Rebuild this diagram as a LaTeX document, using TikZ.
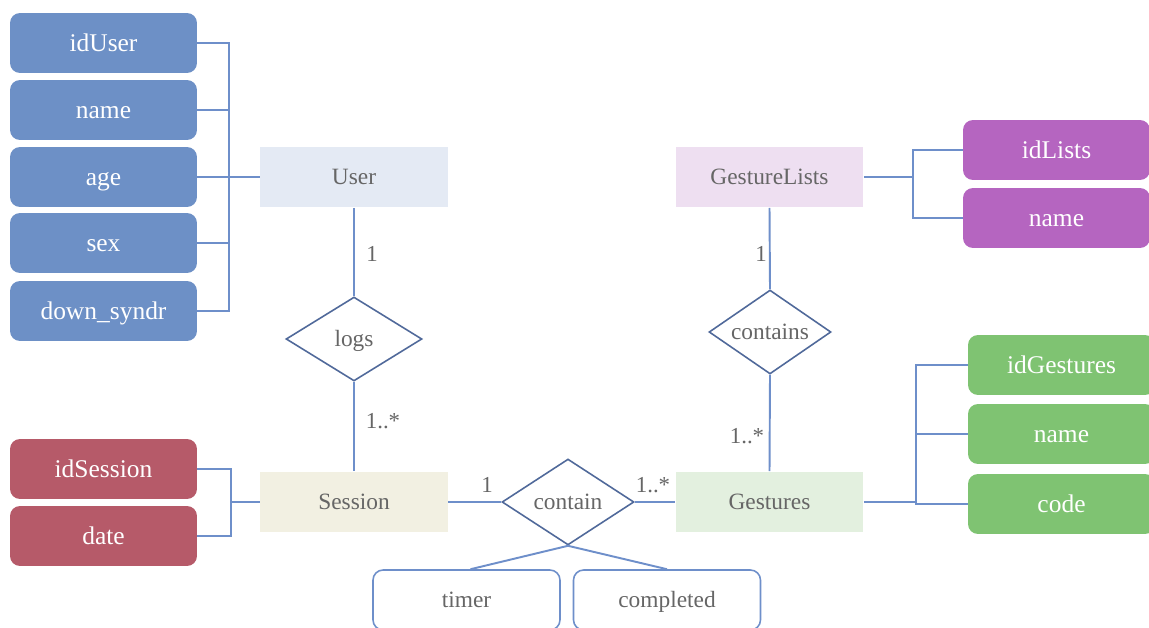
\documentclass[tikz,border=0pt]{standalone}
\usepackage{fontspec}
\setmainfont{Liberation Serif}
\usetikzlibrary{shapes.geometric}
\definecolor{attblue}{HTML}{6D90C6}
\definecolor{attred}{HTML}{B65A69}
\definecolor{attpurple}{HTML}{B565C0}
\definecolor{attgreen}{HTML}{7FC372}
\definecolor{entuser}{HTML}{E4EAF4}
\definecolor{entsession}{HTML}{F2F0E2}
\definecolor{entlists}{HTML}{EEDFF1}
\definecolor{entgest}{HTML}{E3F0DF}
\definecolor{linkblue}{HTML}{6E8FCA}
\definecolor{reldraw}{HTML}{50699A}
\definecolor{txtgray}{HTML}{666666}
\begin{document}
\begin{tikzpicture}[x=0.02cm,y=-0.02cm,
  attrbox/.style={rounded corners=0.2cm, fill=#1, text=white, minimum width=3.74cm, minimum height=1.2cm, inner sep=0pt, text height=9.6pt, text depth=0pt, font=\fontsize{14.5}{16}\selectfont},
  entity/.style={fill=#1, text=txtgray, minimum width=3.76cm, minimum height=1.22cm, inner sep=0pt, text height=8.8pt, text depth=0pt, font=\fontsize{13.3}{15}\selectfont},
  rel/.style={diamond, aspect=1.5, draw=reldraw, line width=0.9pt, fill=white, text=txtgray, inner sep=0pt, text height=8.8pt, text depth=0pt, font=\fontsize{13.3}{15}\selectfont},
  plainattr/.style={rounded corners=0.2cm, draw=linkblue, line width=0.9pt, fill=white, text=txtgray, minimum width=3.74cm, minimum height=1.2cm, inner sep=0pt, text height=8.8pt, text depth=0pt, font=\fontsize{13.3}{15}\selectfont},
  link/.style={draw=linkblue, line width=1.1pt},
  card/.style={text=txtgray, inner sep=0pt, font=\fontsize{13}{15}\selectfont}]
\path[use as bounding box] (0,0) rectangle (1149,628);
\clip (0,0) rectangle (1149,628);

% User attributes
\node[attrbox=attblue] (idUser) at (103.5,43) {idUser};
\node[attrbox=attblue] (uname) at (103.5,110) {name};
\node[attrbox=attblue] (age) at (103.5,177) {age};
\node[attrbox=attblue] (sex) at (103.5,243) {sex};
\node[attrbox=attblue] (down) at (103.5,311) {down\_syndr};

% Entities
\node[entity=entuser] (User) at (354,177) {User};
\node[entity=entsession] (Session) at (354,502) {Session};
\node[entity=entgest] (Gestures) at (769.5,502) {Gestures};
\node[entity=entlists] (GestureLists) at (769.5,177) {GestureLists};

% Session attributes
\node[attrbox=attred] (idSession) at (103.5,469) {idSession};
\node[attrbox=attred] (date) at (103.5,536) {date};

% GestureLists attributes
\node[attrbox=attpurple] (idLists) at (1056.5,150) {idLists};
\node[attrbox=attpurple] (lname) at (1056.5,218) {name};

% Gestures attributes
\node[attrbox=attgreen] (idGestures) at (1061.5,365) {idGestures};
\node[attrbox=attgreen] (gname) at (1061.5,434) {name};
\node[attrbox=attgreen] (code) at (1061.5,504) {code};

% Relationships
\node[rel, minimum width=2.72cm, minimum height=1.68cm] (logs) at (354,339) {logs};
\node[rel, minimum width=2.64cm, minimum height=1.72cm] (contain) at (568,502) {contain};
\node[rel, minimum width=2.44cm, minimum height=1.68cm] (contains) at (770,332) {contains};

% relationship attributes
\node[plainattr] (timer) at (466.5,600) {timer};
\node[plainattr] (completed) at (667,600) {completed};

% bracket coordinates
\coordinate (ub) at (229,0);
\coordinate (sb) at (231,0);
\coordinate (lb) at (913,0);
\coordinate (gb) at (916,0);

% User attribute connectors
\draw[link] (idUser.east) -- (idUser.east -| ub) -- (down.east -| ub) -- (down.east);
\draw[link] (uname.east) -- (uname.east -| ub);
\draw[link] (sex.east) -- (sex.east -| ub);
\draw[link] (age.east) -- (User.west);

% Session attribute connectors
\draw[link] (idSession.east) -- (idSession.east -| sb) -- (date.east -| sb) -- (date.east);
\draw[link] (Session.west -| sb) -- (Session.west);

% GestureLists attribute connectors
\draw[link] (idLists.west) -- (idLists.west -| lb) -- (lname.west -| lb) -- (lname.west);
\draw[link] (GestureLists.east) -- (GestureLists.east -| lb);

% Gestures attribute connectors
\draw[link] (idGestures.west) -- (idGestures.west -| gb) -- (code.west -| gb) -- (code.west);
\draw[link] (gname.west) -- (gname.west -| gb);
\draw[link] (Gestures.east) -- (Gestures.east -| gb);

% Relationship connectors
\draw[link] (User.south) -- (logs.north);
\draw[link] (logs.south) -- (Session.north);
\draw[link] (Session.east) -- (contain.west);
\draw[link] (contain.east) -- (Gestures.west);
\draw[link] (Gestures.north) -- (contains.south);
\draw[link] (contains.north) -- (GestureLists.south);
\draw[link] (contain.south) -- ([xshift=0.08cm]timer.north);
\draw[link] (contain.south) -- (completed.north);

% cardinalities
\node[card] (c1) at (372,254) {1};
\node[card] (c2) at (383,421) {1..*};
\node[card] (c3) at (487,485) {1};
\node[card] (c4) at (653,485) {1..*};
\node[card] (c5) at (747,436) {1..*};
\node[card] (c6) at (761,254) {1};
\end{tikzpicture}
\end{document}
